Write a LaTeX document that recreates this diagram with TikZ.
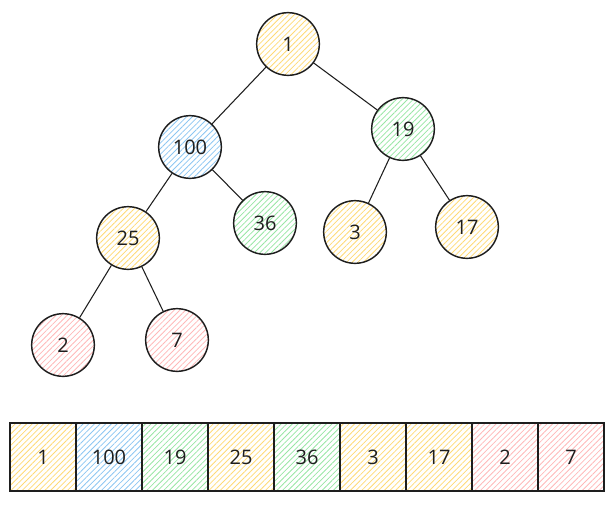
\documentclass[tikz,border=0pt]{standalone}
\usepackage{fontspec}
\setmainfont{Open Sans}
\usetikzlibrary{patterns.meta}
\definecolor{inkline}{HTML}{1E1E1E}
\definecolor{heapyellow}{HTML}{FFDA75}
\definecolor{heapblue}{HTML}{8CC6F2}
\definecolor{heapgreen}{HTML}{98E6A4}
\definecolor{heapred}{HTML}{FFB8B8}

\begin{document}
\begin{tikzpicture}[x=0.75pt,y=-0.75pt,
    heapnode/.style={circle,draw=inkline,line width=1.1pt,minimum size=47pt,
      inner sep=0pt,text=inkline,font=\fontsize{15}{17}\selectfont},
    cell/.style={rectangle,draw=inkline,line width=1.1pt,minimum width=49.5pt,
      minimum height=51pt,inner sep=0pt,text=inkline,font=\fontsize{15}{17}\selectfont},
    hatch/.style={pattern={Lines[angle=45,distance=3pt,line width=0.6pt]},
      pattern color=#1},
    edge/.style={draw=inkline,line width=0.8pt}]
  \useasboundingbox (0,0) rectangle (613,507);

  % the tree
  \node[heapnode,hatch=heapyellow] (n1)   at (288,44)  {1};
  \node[heapnode,hatch=heapblue]   (n100) at (190,147) {100};
  \node[heapnode,hatch=heapgreen]  (n19)  at (403,129) {19};
  \node[heapnode,hatch=heapyellow] (n25)  at (128,238) {25};
  \node[heapnode,hatch=heapgreen]  (n36)  at (265,223) {36};
  \node[heapnode,hatch=heapyellow] (n3)   at (355,232) {3};
  \node[heapnode,hatch=heapyellow] (n17)  at (467,227) {17};
  \node[heapnode,hatch=heapred]    (n2)   at (63,345)  {2};
  \node[heapnode,hatch=heapred]    (n7)   at (177,340) {7};

  \draw[edge] (n1) -- (n100);
  \draw[edge] (n1) -- (n19);
  \draw[edge] (n100) -- (n25);
  \draw[edge] (n100) -- (n36);
  \draw[edge] (n19) -- (n3);
  \draw[edge] (n19) -- (n17);
  \draw[edge] (n25) -- (n2);
  \draw[edge] (n25) -- (n7);

  % the array
  \foreach \val/\col [count=\i] in {1/heapyellow,100/heapblue,19/heapgreen,
      25/heapyellow,36/heapgreen,3/heapyellow,17/heapyellow,2/heapred,7/heapred}
    \node[cell,hatch=\col] (c\i) at ({10+33+66*(\i-1)},457) {\val};
\end{tikzpicture}
\end{document}
